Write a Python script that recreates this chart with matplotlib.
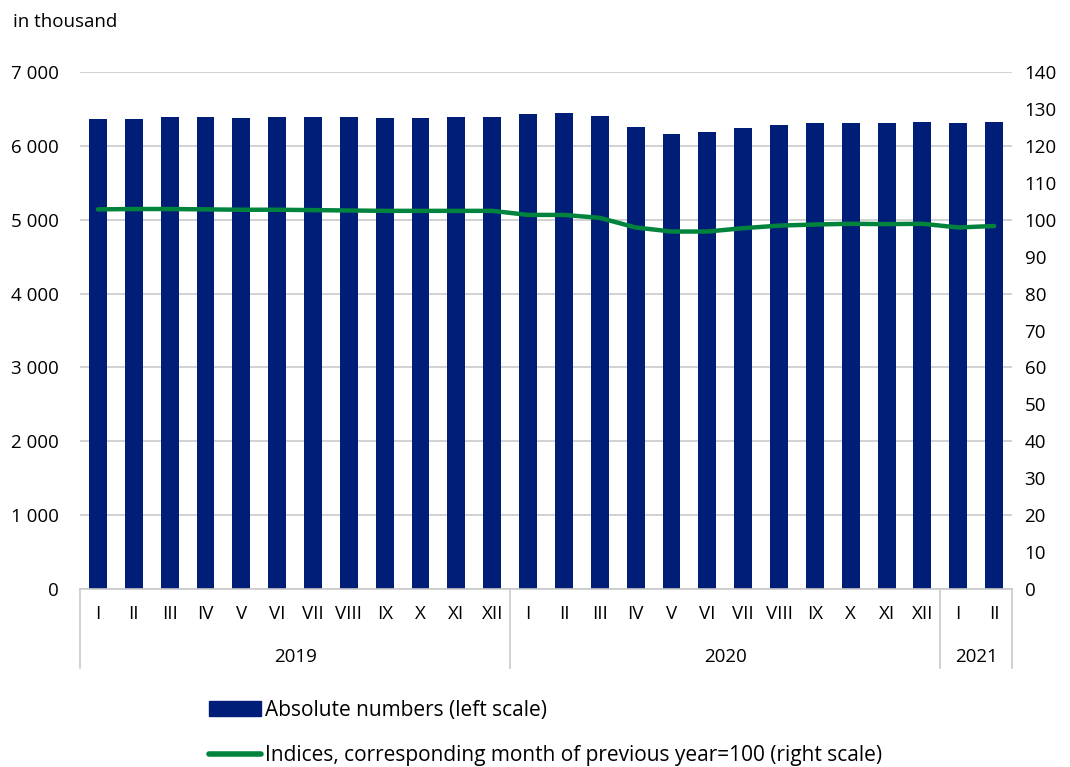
import matplotlib
matplotlib.use("Agg")
import matplotlib.pyplot as plt
from matplotlib.patches import Patch
from matplotlib.lines import Line2D
import numpy as np

months = ["I","II","III","IV","V","VI","VII","VIII","IX","X","XI","XII",
          "I","II","III","IV","V","VI","VII","VIII","IX","X","XI","XII",
          "I","II"]
years = ["2019", "2020", "2021"]
year_counts = [12, 12, 2]
absolute = [6361, 6370, 6388, 6384, 6375, 6388, 6388, 6384, 6379, 6375, 6388, 6388,
            6433, 6442, 6406, 6253, 6167, 6181, 6244, 6289, 6307, 6311, 6311, 6325,
            6307, 6329]
indices = [102.8, 102.9, 102.9, 102.8, 102.7, 102.7, 102.6, 102.5, 102.4, 102.4, 102.4, 102.4,
           101.3, 101.3, 100.5, 97.9, 96.8, 96.8, 97.7, 98.4, 98.7, 98.9, 98.8, 98.9,
           97.9, 98.3]
left_ticks = [0, 1000, 2000, 3000, 4000, 5000, 6000, 7000]
right_ticks = list(range(0, 141, 10))

plt.rcParams['font.family'] = ['Open Sans', 'DejaVu Sans']
FS = 13.5
LFS = 15
BAR = "#001E78"
GREEN = "#00843D"
GRID = "#C9C9C9"

fig = plt.figure(figsize=(10.70, 7.67), dpi=100)
ax = fig.add_axes([80/1070, (767-589)/767, (1012-80)/1070, (589-72)/767])
x = np.arange(len(months))
ax.bar(x, absolute, width=0.5, color=BAR, zorder=2)
ax.set_xlim(-0.5, len(months) - 0.5)
ax.set_ylim(0, 7000)
ax.set_yticks(left_ticks)
ax.set_yticklabels([f"{v:,}".replace(",", " ") for v in left_ticks], fontsize=FS)
ax.yaxis.grid(True, color=GRID, linewidth=1.2, zorder=0)
ax.set_axisbelow(True)
for s in ["top", "right", "left"]:
    ax.spines[s].set_visible(False)
ax.spines["bottom"].set_color(GRID)
ax.spines["bottom"].set_linewidth(1.2)
ax.tick_params(axis="y", length=0, pad=15.5)
ax.set_xticks([])

ax2 = ax.twinx()
ax2.plot(x, indices, color=GREEN, linewidth=3.2, solid_capstyle="round", zorder=3)
ax2.set_ylim(0, 140)
ax2.set_yticks(right_ticks)
ax2.set_yticklabels([str(v) for v in right_ticks], fontsize=FS)
ax2.tick_params(axis="y", length=0, pad=9)
for s in ["top", "right", "left", "bottom"]:
    ax2.spines[s].set_visible(False)

trans = ax.get_xaxis_transform()
for i, m in enumerate(months):
    ax.text(x[i], -0.048, m, transform=trans, ha="center", va="center", fontsize=FS)
bounds = [0]
for c in year_counts:
    bounds.append(bounds[-1] + c)
for b in bounds:
    ax.plot([b - 0.5, b - 0.5], [0, -0.153], transform=trans, color=GRID,
            linewidth=1.2, clip_on=False)
for yname, s, e in zip(years, bounds[:-1], bounds[1:]):
    ax.text((s + e - 1) / 2, -0.132, yname, transform=trans, ha="center",
            va="center", fontsize=FS)

fig.text(13/1070, 1 - 22/767, "in thousand", fontsize=FS, ha="left", va="center")

handles = [Patch(facecolor=BAR, edgecolor=BAR),
           Line2D([0], [0], color=GREEN, linewidth=4, solid_capstyle="round")]
labels = ["Absolute numbers (left scale)",
          "Indices, corresponding month of previous year=100 (right scale)"]
fig.legend(handles, labels, loc="upper left", bbox_to_anchor=(209/1070, 1 - 700/767),
           frameon=False, fontsize=LFS, handlelength=2.5, handletextpad=0.2,
           labelspacing=1.15, borderpad=0, borderaxespad=0)

fig.savefig("out.png", dpi=100)
